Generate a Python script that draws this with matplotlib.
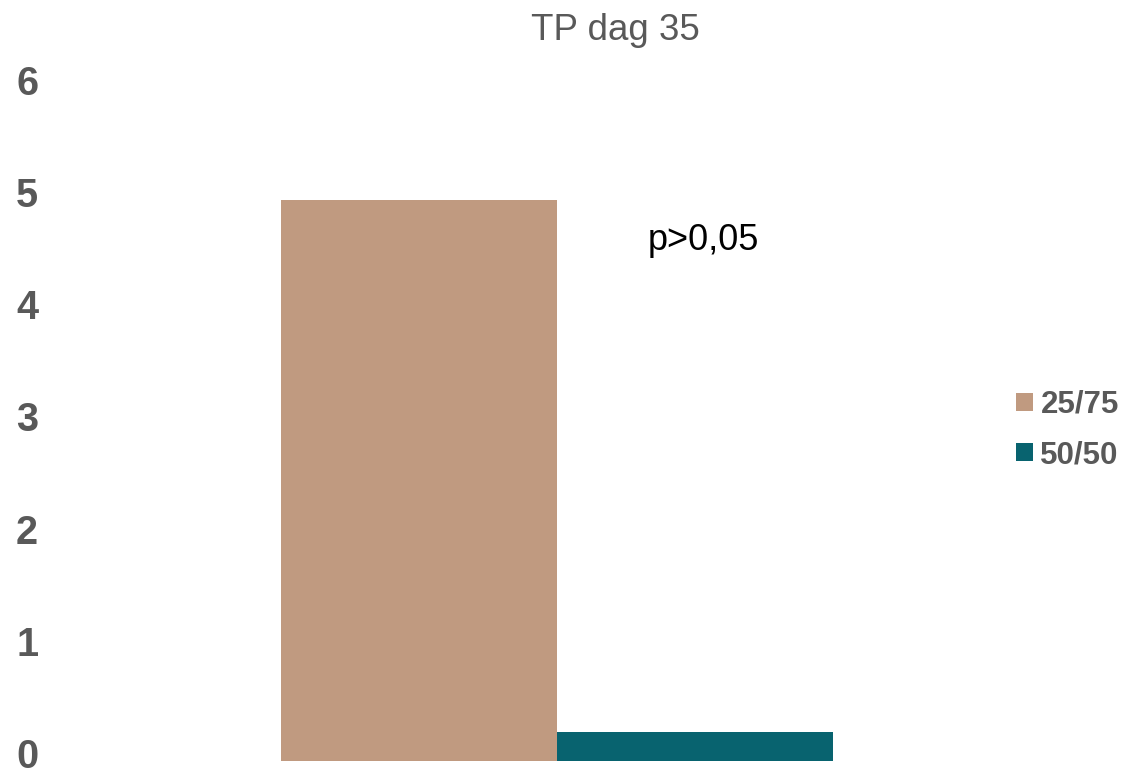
import matplotlib
matplotlib.use("Agg")
import matplotlib.pyplot as plt
import matplotlib.transforms as mtransforms
import numpy as np

title = "TP dag 35"
series_names = ["25/75", "50/50"]
series_values = [5.0, 0.26]
series_colors = ["#C09A80", "#08636F"]
yticks = [0, 1, 2, 3, 4, 5, 6]
annotation = "p>0,05"

plt.rcParams['font.family'] = ['Liberation Sans', 'DejaVu Sans']

fig = plt.figure(figsize=(11.24, 7.76), dpi=100)
ax = fig.add_axes([0.055, 0.01933, 0.89, 0.8673])

width = 0.5
offsets = [-0.25, 0.25]
handles = []
for name, val, col, off in zip(series_names, series_values, series_colors, offsets):
    b = ax.bar(0 + off, val, width=width, color=col, label=name)
    handles.append(b)

# map: center pixel 557, 1 unit = 552 px
L = 0.055 * 1124
R = (0.055 + 0.89) * 1124
ax.set_xlim((L - 557) / 552, (R - 557) / 552)
ax.set_ylim(0, 6)
ax.set_yticks(yticks)
ax.set_yticklabels([str(t) for t in yticks], fontsize=28.5, fontweight='bold', color='#595959',
                   va='center')
ax.tick_params(axis='y', length=0, pad=17)
shift = mtransforms.ScaledTranslation(0, 4 / 100, fig.dpi_scale_trans)
for lab in ax.get_yticklabels():
    lab.set_transform(lab.get_transform() + shift)
ax.set_xticks([])
for s in ax.spines.values():
    s.set_visible(False)

fig.text(615 / 1124, 1 - 30 / 776, title, ha='center', va='center', fontsize=26.5, color='#595959')
ax.text((703 - 557) / 552, 5 - (240 - 200) / 112.2, annotation, ha='center', va='center',
        fontsize=26, color='black')

leg = fig.legend(handles=handles, labels=series_names, loc='center left',
                 bbox_to_anchor=(1016 / 1124, 1 - 430 / 776), frameon=False,
                 prop={'size': 22.5, 'weight': 'bold'}, labelcolor='#595959',
                 handlelength=0.53, handleheight=0.53, handletextpad=0.25,
                 labelspacing=0.65, borderpad=0, borderaxespad=0)

fig.savefig("out.png", dpi=100)
